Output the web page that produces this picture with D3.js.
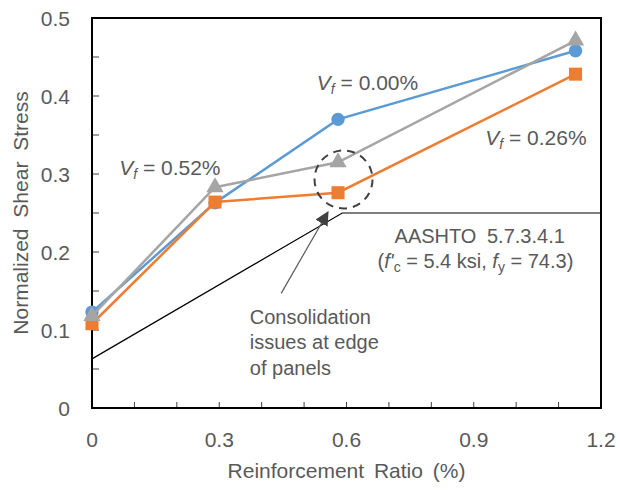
<!DOCTYPE html>
<html>
<head>
<meta charset="utf-8">
<script src="https://cdn.jsdelivr.net/npm/d3@7"></script>
<style>
  body { margin: 0; background: #fff; }
  text { font-family: "Liberation Sans", Arial, sans-serif; fill: #595959; }
</style>
</head>
<body>
<div id="chart"></div>
<script>
// data
var ratios = [0, 0.29, 0.58, 1.14];
var vf000 = [0.123, 0.263, 0.370, 0.458];
var vf026 = [0.108, 0.264, 0.276, 0.428];
var vf052 = [0.118, 0.283, 0.315, 0.471];
var aashtoX = [0, 0.59, 1.2];
var aashtoY = [0.063, 0.25, 0.25];
var xTicks = [0, 0.3, 0.6, 0.9, 1.2];
var yTicks = [0, 0.1, 0.2, 0.3, 0.4, 0.5];

var svgWidth = 620, svgHeight = 493;
var margin = {top: 18, right: 19, bottom: 85, left: 92},
    width = svgWidth - margin.left - margin.right,
    height = svgHeight - margin.top - margin.bottom;

var svg = d3.select('#chart').append('svg')
    .attr('width', svgWidth)
    .attr('height', svgHeight);
var g = svg.append('g')
    .attr('transform', `translate(${margin.left}, ${margin.top})`);

var x = d3.scaleLinear().domain([0, 1.2]).range([0, width]);
var y = d3.scaleLinear().domain([0, 0.5]).range([height, 0]);

// inner tick marks
g.selectAll('.ytick')
    .data(d3.range(0, 0.5001, 0.05))
    .enter().append('line')
    .attr('x1', 0).attr('x2', 7)
    .attr('y1', d => y(d)).attr('y2', d => y(d))
    .attr('stroke', '#404040').attr('stroke-width', 1);
g.selectAll('.xtick')
    .data(d3.range(0, 1.2001, 0.1))
    .enter().append('line')
    .attr('x1', d => x(d)).attr('x2', d => x(d))
    .attr('y1', height).attr('y2', height - 6)
    .attr('stroke', '#404040').attr('stroke-width', 1);

// frame
g.append('rect')
    .attr('width', width).attr('height', height)
    .attr('fill', 'none').attr('stroke', '#000').attr('stroke-width', 2);

// tick labels
g.selectAll('.ylab')
    .data(yTicks)
    .enter().append('text')
    .attr('x', -22).attr('y', d => y(d)).attr('dy', '0.36em')
    .attr('text-anchor', 'end').attr('font-size', '21px')
    .text(d => d);
g.selectAll('.xlab')
    .data(xTicks)
    .enter().append('text')
    .attr('x', d => x(d)).attr('y', height + 39)
    .attr('text-anchor', 'middle').attr('font-size', '21px')
    .text(d => d);

// axis titles
g.append('text')
    .attr('x', width / 2).attr('y', height + 70)
    .attr('text-anchor', 'middle').attr('font-size', '21px')
    .attr('word-spacing', '4px')
    .text('Reinforcement Ratio (%)');
g.append('text')
    .attr('transform', `translate(${-64}, ${height / 2}) rotate(-90)`)
    .attr('text-anchor', 'middle').attr('font-size', '21px')
    .attr('word-spacing', '5px')
    .text('Normalized Shear Stress');

// AASHTO line
var line = d3.line().x(d => x(d[0])).y(d => y(d[1]));
g.append('path')
    .datum(d3.zip(aashtoX, aashtoY))
    .attr('d', line)
    .attr('fill', 'none').attr('stroke', '#000').attr('stroke-width', 1.2);

// series
var series = [
  {vals: vf000, color: '#5B9BD5', shape: d3.symbolCircle, size: 140},
  {vals: vf026, color: '#ED7D31', shape: d3.symbolSquare, size: 170},
  {vals: vf052, color: '#A5A5A5', shape: d3.symbolTriangle, size: 130}
];
series.forEach(function(s) {
  var pts = d3.zip(ratios, s.vals);
  g.append('path')
      .datum(pts)
      .attr('d', line)
      .attr('fill', 'none').attr('stroke', s.color).attr('stroke-width', 2.5);
  g.selectAll(null)
      .data(pts)
      .enter().append('path')
      .attr('d', d3.symbol().type(s.shape).size(s.size))
      .attr('transform', d => `translate(${x(d[0])}, ${y(d[1])})`)
      .attr('fill', s.color);
});

// series labels
function vfLabel(vx, vy, txt) {
  var t = g.append('text')
      .attr('x', x(vx)).attr('y', y(vy)).attr('font-size', '21px');
  t.append('tspan').attr('font-style', 'italic').text('V');
  t.append('tspan').attr('font-style', 'italic').attr('font-size', '14px')
      .attr('dy', 4).text('f');
  t.append('tspan').attr('dy', -4).text(' = ' + txt);
}
vfLabel(0.53, 0.408, '0.00%');
vfLabel(0.927, 0.337, '0.26%');
vfLabel(0.064, 0.299, '0.52%');

// dashed circle round the low point
g.append('circle')
    .attr('cx', x(0.593)).attr('cy', y(0.293))
    .attr('r', 29)
    .attr('fill', 'none').attr('stroke', '#404040')
    .attr('stroke-width', 2).attr('stroke-dasharray', '8,6');

// arrow
svg.append('defs').append('marker')
    .attr('id', 'head')
    .attr('viewBox', '0 0 10 10')
    .attr('refX', 9).attr('refY', 5)
    .attr('markerWidth', 14).attr('markerHeight', 14)
    .attr('markerUnits', 'userSpaceOnUse')
    .attr('orient', 'auto')
    .append('path').attr('d', 'M0,0L10,5L0,10z').attr('fill', '#404040');
g.append('line')
    .attr('x1', x(0.446)).attr('y1', y(0.147))
    .attr('x2', x(0.556)).attr('y2', y(0.251))
    .attr('stroke', '#595959').attr('stroke-width', 1.2)
    .attr('marker-end', 'url(#head)');

// AASHTO note
var note = g.append('text').attr('text-anchor', 'middle').attr('font-size', '20px');
note.append('tspan').attr('x', x(0.914)).attr('y', y(0.212))
    .attr('word-spacing', '5px').text('AASHTO 5.7.3.4.1');
var n2 = g.append('text').attr('text-anchor', 'middle').attr('font-size', '20px')
    .attr('x', x(0.904)).attr('y', y(0.18));
n2.append('tspan').text('(');
n2.append('tspan').attr('font-style', 'italic').text('f\'');
n2.append('tspan').attr('font-size', '14px').attr('dy', 4).text('c');
n2.append('tspan').attr('dy', -4).text(' = 5.4 ksi, ');
n2.append('tspan').attr('font-style', 'italic').text('f');
n2.append('tspan').attr('font-size', '14px').attr('dy', 4).text('y');
n2.append('tspan').attr('dy', -4).text(' = 74.3)');

// consolidation note
var cons = ['Consolidation', 'issues at edge', 'of panels'];
g.append('text').attr('font-size', '20px')
    .selectAll('tspan')
    .data(cons)
    .enter().append('tspan')
    .attr('x', x(0.372))
    .attr('y', (d, i) => y(0.108) + i * 25.5)
    .text(d => d);
</script>
</body>
</html>
